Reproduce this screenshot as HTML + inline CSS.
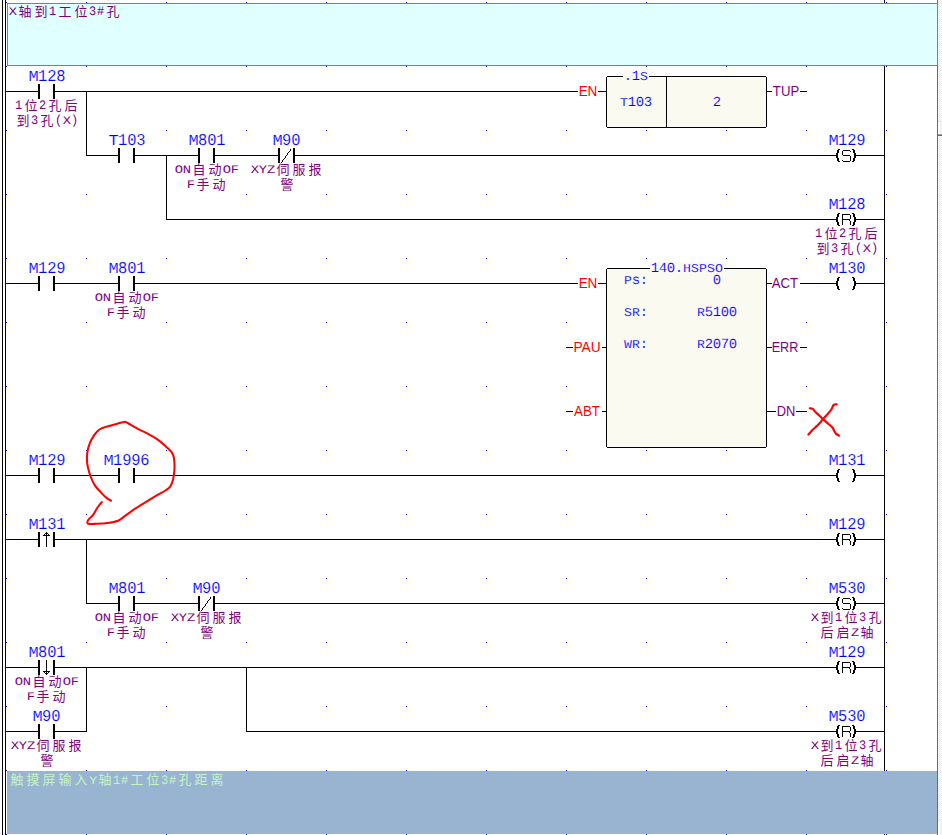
<!DOCTYPE html>
<html lang="zh"><head><meta charset="utf-8"><title>PLC Ladder</title>
<style>
html,body{margin:0;padding:0;background:#fff;}
body{width:942px;height:835px;position:relative;overflow:hidden;font-family:"Liberation Sans",sans-serif;}
svg{position:absolute;left:0;top:0;}
.g{shape-rendering:crispEdges;}
span{position:absolute;white-space:pre;line-height:16px;height:16px;}
.m{font-family:"Liberation Mono",monospace;transform-origin:0 50%;text-rendering:geometricPrecision;}
.m b{font-weight:normal;line-height:0;display:inline-block;transform-origin:0 50%;}
.m i{display:inline-block;height:1px;font-size:0;line-height:0;color:transparent;font-style:normal;overflow:hidden;vertical-align:baseline;}
.s{font-family:"Liberation Sans",sans-serif;}
.c{font-family:"Liberation Sans","Noto Sans CJK SC",sans-serif;font-size:13px;text-anchor:middle;}
</style></head><body>
<svg width="942" height="835" viewBox="0 0 942 835">
<defs><pattern id="dz" width="2" height="2" patternUnits="userSpaceOnUse"><rect width="2" height="2" fill="#fff"/><rect width="1" height="1" fill="#ececec"/><rect x="1" y="1" width="1" height="1" fill="#ececec"/></pattern></defs>
<g class="g">
<rect x="6" y="2" width="1" height="1" fill="#00f"/>
<rect x="6" y="66" width="1" height="1" fill="#00f"/>
<rect x="6" y="130" width="1" height="1" fill="#00f"/>
<rect x="6" y="194" width="1" height="1" fill="#00f"/>
<rect x="6" y="258" width="1" height="1" fill="#00f"/>
<rect x="6" y="322" width="1" height="1" fill="#00f"/>
<rect x="6" y="386" width="1" height="1" fill="#00f"/>
<rect x="6" y="450" width="1" height="1" fill="#00f"/>
<rect x="6" y="514" width="1" height="1" fill="#00f"/>
<rect x="6" y="578" width="1" height="1" fill="#00f"/>
<rect x="6" y="642" width="1" height="1" fill="#00f"/>
<rect x="6" y="706" width="1" height="1" fill="#00f"/>
<rect x="6" y="770" width="1" height="1" fill="#00f"/>
<rect x="6" y="834" width="1" height="1" fill="#00f"/>
<rect x="86" y="2" width="1" height="1" fill="#00f"/>
<rect x="86" y="66" width="1" height="1" fill="#00f"/>
<rect x="86" y="130" width="1" height="1" fill="#00f"/>
<rect x="86" y="194" width="1" height="1" fill="#00f"/>
<rect x="86" y="258" width="1" height="1" fill="#00f"/>
<rect x="86" y="322" width="1" height="1" fill="#00f"/>
<rect x="86" y="386" width="1" height="1" fill="#00f"/>
<rect x="86" y="450" width="1" height="1" fill="#00f"/>
<rect x="86" y="514" width="1" height="1" fill="#00f"/>
<rect x="86" y="578" width="1" height="1" fill="#00f"/>
<rect x="86" y="642" width="1" height="1" fill="#00f"/>
<rect x="86" y="706" width="1" height="1" fill="#00f"/>
<rect x="86" y="770" width="1" height="1" fill="#00f"/>
<rect x="86" y="834" width="1" height="1" fill="#00f"/>
<rect x="166" y="2" width="1" height="1" fill="#00f"/>
<rect x="166" y="66" width="1" height="1" fill="#00f"/>
<rect x="166" y="130" width="1" height="1" fill="#00f"/>
<rect x="166" y="194" width="1" height="1" fill="#00f"/>
<rect x="166" y="258" width="1" height="1" fill="#00f"/>
<rect x="166" y="322" width="1" height="1" fill="#00f"/>
<rect x="166" y="386" width="1" height="1" fill="#00f"/>
<rect x="166" y="450" width="1" height="1" fill="#00f"/>
<rect x="166" y="514" width="1" height="1" fill="#00f"/>
<rect x="166" y="578" width="1" height="1" fill="#00f"/>
<rect x="166" y="642" width="1" height="1" fill="#00f"/>
<rect x="166" y="706" width="1" height="1" fill="#00f"/>
<rect x="166" y="770" width="1" height="1" fill="#00f"/>
<rect x="166" y="834" width="1" height="1" fill="#00f"/>
<rect x="246" y="2" width="1" height="1" fill="#00f"/>
<rect x="246" y="66" width="1" height="1" fill="#00f"/>
<rect x="246" y="130" width="1" height="1" fill="#00f"/>
<rect x="246" y="194" width="1" height="1" fill="#00f"/>
<rect x="246" y="258" width="1" height="1" fill="#00f"/>
<rect x="246" y="322" width="1" height="1" fill="#00f"/>
<rect x="246" y="386" width="1" height="1" fill="#00f"/>
<rect x="246" y="450" width="1" height="1" fill="#00f"/>
<rect x="246" y="514" width="1" height="1" fill="#00f"/>
<rect x="246" y="578" width="1" height="1" fill="#00f"/>
<rect x="246" y="642" width="1" height="1" fill="#00f"/>
<rect x="246" y="706" width="1" height="1" fill="#00f"/>
<rect x="246" y="770" width="1" height="1" fill="#00f"/>
<rect x="246" y="834" width="1" height="1" fill="#00f"/>
<rect x="326" y="2" width="1" height="1" fill="#00f"/>
<rect x="326" y="66" width="1" height="1" fill="#00f"/>
<rect x="326" y="130" width="1" height="1" fill="#00f"/>
<rect x="326" y="194" width="1" height="1" fill="#00f"/>
<rect x="326" y="258" width="1" height="1" fill="#00f"/>
<rect x="326" y="322" width="1" height="1" fill="#00f"/>
<rect x="326" y="386" width="1" height="1" fill="#00f"/>
<rect x="326" y="450" width="1" height="1" fill="#00f"/>
<rect x="326" y="514" width="1" height="1" fill="#00f"/>
<rect x="326" y="578" width="1" height="1" fill="#00f"/>
<rect x="326" y="642" width="1" height="1" fill="#00f"/>
<rect x="326" y="706" width="1" height="1" fill="#00f"/>
<rect x="326" y="770" width="1" height="1" fill="#00f"/>
<rect x="326" y="834" width="1" height="1" fill="#00f"/>
<rect x="406" y="2" width="1" height="1" fill="#00f"/>
<rect x="406" y="66" width="1" height="1" fill="#00f"/>
<rect x="406" y="130" width="1" height="1" fill="#00f"/>
<rect x="406" y="194" width="1" height="1" fill="#00f"/>
<rect x="406" y="258" width="1" height="1" fill="#00f"/>
<rect x="406" y="322" width="1" height="1" fill="#00f"/>
<rect x="406" y="386" width="1" height="1" fill="#00f"/>
<rect x="406" y="450" width="1" height="1" fill="#00f"/>
<rect x="406" y="514" width="1" height="1" fill="#00f"/>
<rect x="406" y="578" width="1" height="1" fill="#00f"/>
<rect x="406" y="642" width="1" height="1" fill="#00f"/>
<rect x="406" y="706" width="1" height="1" fill="#00f"/>
<rect x="406" y="770" width="1" height="1" fill="#00f"/>
<rect x="406" y="834" width="1" height="1" fill="#00f"/>
<rect x="486" y="2" width="1" height="1" fill="#00f"/>
<rect x="486" y="66" width="1" height="1" fill="#00f"/>
<rect x="486" y="130" width="1" height="1" fill="#00f"/>
<rect x="486" y="194" width="1" height="1" fill="#00f"/>
<rect x="486" y="258" width="1" height="1" fill="#00f"/>
<rect x="486" y="322" width="1" height="1" fill="#00f"/>
<rect x="486" y="386" width="1" height="1" fill="#00f"/>
<rect x="486" y="450" width="1" height="1" fill="#00f"/>
<rect x="486" y="514" width="1" height="1" fill="#00f"/>
<rect x="486" y="578" width="1" height="1" fill="#00f"/>
<rect x="486" y="642" width="1" height="1" fill="#00f"/>
<rect x="486" y="706" width="1" height="1" fill="#00f"/>
<rect x="486" y="770" width="1" height="1" fill="#00f"/>
<rect x="486" y="834" width="1" height="1" fill="#00f"/>
<rect x="566" y="2" width="1" height="1" fill="#00f"/>
<rect x="566" y="66" width="1" height="1" fill="#00f"/>
<rect x="566" y="130" width="1" height="1" fill="#00f"/>
<rect x="566" y="194" width="1" height="1" fill="#00f"/>
<rect x="566" y="258" width="1" height="1" fill="#00f"/>
<rect x="566" y="322" width="1" height="1" fill="#00f"/>
<rect x="566" y="386" width="1" height="1" fill="#00f"/>
<rect x="566" y="450" width="1" height="1" fill="#00f"/>
<rect x="566" y="514" width="1" height="1" fill="#00f"/>
<rect x="566" y="578" width="1" height="1" fill="#00f"/>
<rect x="566" y="642" width="1" height="1" fill="#00f"/>
<rect x="566" y="706" width="1" height="1" fill="#00f"/>
<rect x="566" y="770" width="1" height="1" fill="#00f"/>
<rect x="566" y="834" width="1" height="1" fill="#00f"/>
<rect x="646" y="2" width="1" height="1" fill="#00f"/>
<rect x="646" y="66" width="1" height="1" fill="#00f"/>
<rect x="646" y="130" width="1" height="1" fill="#00f"/>
<rect x="646" y="194" width="1" height="1" fill="#00f"/>
<rect x="646" y="258" width="1" height="1" fill="#00f"/>
<rect x="646" y="322" width="1" height="1" fill="#00f"/>
<rect x="646" y="386" width="1" height="1" fill="#00f"/>
<rect x="646" y="450" width="1" height="1" fill="#00f"/>
<rect x="646" y="514" width="1" height="1" fill="#00f"/>
<rect x="646" y="578" width="1" height="1" fill="#00f"/>
<rect x="646" y="642" width="1" height="1" fill="#00f"/>
<rect x="646" y="706" width="1" height="1" fill="#00f"/>
<rect x="646" y="770" width="1" height="1" fill="#00f"/>
<rect x="646" y="834" width="1" height="1" fill="#00f"/>
<rect x="726" y="2" width="1" height="1" fill="#00f"/>
<rect x="726" y="66" width="1" height="1" fill="#00f"/>
<rect x="726" y="130" width="1" height="1" fill="#00f"/>
<rect x="726" y="194" width="1" height="1" fill="#00f"/>
<rect x="726" y="258" width="1" height="1" fill="#00f"/>
<rect x="726" y="322" width="1" height="1" fill="#00f"/>
<rect x="726" y="386" width="1" height="1" fill="#00f"/>
<rect x="726" y="450" width="1" height="1" fill="#00f"/>
<rect x="726" y="514" width="1" height="1" fill="#00f"/>
<rect x="726" y="578" width="1" height="1" fill="#00f"/>
<rect x="726" y="642" width="1" height="1" fill="#00f"/>
<rect x="726" y="706" width="1" height="1" fill="#00f"/>
<rect x="726" y="770" width="1" height="1" fill="#00f"/>
<rect x="726" y="834" width="1" height="1" fill="#00f"/>
<rect x="806" y="2" width="1" height="1" fill="#00f"/>
<rect x="806" y="66" width="1" height="1" fill="#00f"/>
<rect x="806" y="130" width="1" height="1" fill="#00f"/>
<rect x="806" y="194" width="1" height="1" fill="#00f"/>
<rect x="806" y="258" width="1" height="1" fill="#00f"/>
<rect x="806" y="322" width="1" height="1" fill="#00f"/>
<rect x="806" y="386" width="1" height="1" fill="#00f"/>
<rect x="806" y="450" width="1" height="1" fill="#00f"/>
<rect x="806" y="514" width="1" height="1" fill="#00f"/>
<rect x="806" y="578" width="1" height="1" fill="#00f"/>
<rect x="806" y="642" width="1" height="1" fill="#00f"/>
<rect x="806" y="706" width="1" height="1" fill="#00f"/>
<rect x="806" y="770" width="1" height="1" fill="#00f"/>
<rect x="806" y="834" width="1" height="1" fill="#00f"/>
<rect x="886" y="2" width="1" height="1" fill="#00f"/>
<rect x="886" y="66" width="1" height="1" fill="#00f"/>
<rect x="886" y="130" width="1" height="1" fill="#00f"/>
<rect x="886" y="194" width="1" height="1" fill="#00f"/>
<rect x="886" y="258" width="1" height="1" fill="#00f"/>
<rect x="886" y="322" width="1" height="1" fill="#00f"/>
<rect x="886" y="386" width="1" height="1" fill="#00f"/>
<rect x="886" y="450" width="1" height="1" fill="#00f"/>
<rect x="886" y="514" width="1" height="1" fill="#00f"/>
<rect x="886" y="578" width="1" height="1" fill="#00f"/>
<rect x="886" y="642" width="1" height="1" fill="#00f"/>
<rect x="886" y="706" width="1" height="1" fill="#00f"/>
<rect x="886" y="770" width="1" height="1" fill="#00f"/>
<rect x="886" y="834" width="1" height="1" fill="#00f"/>
<rect x="2" y="0" width="1" height="835" fill="#000"/>
<rect x="5" y="0" width="1" height="835" fill="#000"/>
<rect x="884" y="0" width="1" height="835" fill="#000"/>
<rect x="938" y="0" width="4" height="835" fill="url(#dz)"/>
<rect x="937" y="0" width="1" height="835" fill="#6a6a6a"/>
<rect x="938" y="121" width="4" height="1" fill="#e3e3e3"/><rect x="938" y="122" width="4" height="12" fill="#fff"/><rect x="940" y="123" width="2" height="11" fill="#f0f0f0"/><rect x="938" y="134" width="4" height="1" fill="#a0a0a0"/><rect x="938" y="135" width="4" height="1" fill="#696969"/>
<rect x="938" y="820" width="4" height="1" fill="#e3e3e3"/><rect x="938" y="821" width="4" height="14" fill="#fff"/><rect x="940" y="822" width="2" height="13" fill="#f0f0f0"/>
<rect x="7.5" y="3.5" width="930" height="62" fill="#e0ffff" stroke="#808080" stroke-width="1"/>
<rect x="7" y="771" width="930" height="63" fill="#99b4d1"/>
<rect x="38" y="84" width="2" height="15" fill="#000"/>
<rect x="53" y="84" width="2" height="15" fill="#000"/>
<rect x="6" y="91" width="32" height="1" fill="#000"/>
<rect x="55" y="91" width="523" height="1" fill="#000"/>
<rect x="598" y="91" width="8" height="1" fill="#000"/>
<path d="M607.5 76.5H765.5L766.5 77.5V126.5L765.5 127.5H607.5L606.5 126.5V77.5Z" fill="#fafaf0" stroke="#000" stroke-width="1"/>
<rect x="666" y="76" width="1" height="52" fill="#000"/>
<rect x="767" y="91" width="5" height="1" fill="#000"/>
<rect x="800" y="91" width="7" height="1" fill="#000"/>
<rect x="86" y="91" width="1" height="65" fill="#000"/>
<rect x="118" y="148" width="2" height="15" fill="#000"/>
<rect x="133" y="148" width="2" height="15" fill="#000"/>
<rect x="198" y="148" width="2" height="15" fill="#000"/>
<rect x="213" y="148" width="2" height="15" fill="#000"/>
<rect x="278" y="148" width="2" height="15" fill="#000"/>
<rect x="293" y="148" width="2" height="15" fill="#000"/>
<rect x="281" y="162" width="1" height="1"/>
<rect x="282" y="160" width="1" height="2"/>
<rect x="283" y="159" width="1" height="1"/>
<rect x="284" y="158" width="1" height="1"/>
<rect x="285" y="156" width="1" height="2"/>
<rect x="286" y="155" width="1" height="1"/>
<rect x="287" y="153" width="1" height="2"/>
<rect x="288" y="152" width="1" height="1"/>
<rect x="289" y="151" width="1" height="1"/>
<rect x="290" y="149" width="1" height="2"/>
<rect x="86" y="155" width="32" height="1" fill="#000"/>
<rect x="135" y="155" width="63" height="1" fill="#000"/>
<rect x="215" y="155" width="63" height="1" fill="#000"/>
<rect x="295" y="155" width="541" height="1" fill="#000"/>
<rect x="838" y="149" width="2" height="1"/>
<rect x="852" y="149" width="2" height="1"/>
<rect x="837" y="150" width="2" height="1"/>
<rect x="853" y="150" width="2" height="1"/>
<rect x="837" y="151" width="2" height="1"/>
<rect x="853" y="151" width="2" height="1"/>
<rect x="837" y="152" width="2" height="1"/>
<rect x="853" y="152" width="2" height="1"/>
<rect x="836" y="153" width="2" height="1"/>
<rect x="854" y="153" width="2" height="1"/>
<rect x="836" y="154" width="2" height="1"/>
<rect x="854" y="154" width="2" height="1"/>
<rect x="836" y="155" width="2" height="1"/>
<rect x="854" y="155" width="2" height="1"/>
<rect x="836" y="156" width="2" height="1"/>
<rect x="854" y="156" width="2" height="1"/>
<rect x="836" y="157" width="2" height="1"/>
<rect x="854" y="157" width="2" height="1"/>
<rect x="837" y="158" width="2" height="1"/>
<rect x="853" y="158" width="2" height="1"/>
<rect x="837" y="159" width="2" height="1"/>
<rect x="853" y="159" width="2" height="1"/>
<rect x="837" y="160" width="2" height="1"/>
<rect x="853" y="160" width="2" height="1"/>
<rect x="838" y="161" width="2" height="1"/>
<rect x="852" y="161" width="2" height="1"/>
<rect x="843" y="150" width="7" height="1" fill="#000"/>
<rect x="850" y="151" width="1" height="1"/>
<rect x="842" y="151" width="1" height="4" fill="#000"/>
<rect x="843" y="155" width="7" height="1" fill="#000"/>
<rect x="850" y="156" width="1" height="5" fill="#000"/>
<rect x="843" y="161" width="7" height="1" fill="#000"/>
<rect x="842" y="160" width="1" height="1"/>
<rect x="856" y="155" width="28" height="1" fill="#000"/>
<rect x="166" y="155" width="1" height="65" fill="#000"/>
<rect x="166" y="219" width="670" height="1" fill="#000"/>
<rect x="838" y="213" width="2" height="1"/>
<rect x="852" y="213" width="2" height="1"/>
<rect x="837" y="214" width="2" height="1"/>
<rect x="853" y="214" width="2" height="1"/>
<rect x="837" y="215" width="2" height="1"/>
<rect x="853" y="215" width="2" height="1"/>
<rect x="837" y="216" width="2" height="1"/>
<rect x="853" y="216" width="2" height="1"/>
<rect x="836" y="217" width="2" height="1"/>
<rect x="854" y="217" width="2" height="1"/>
<rect x="836" y="218" width="2" height="1"/>
<rect x="854" y="218" width="2" height="1"/>
<rect x="836" y="219" width="2" height="1"/>
<rect x="854" y="219" width="2" height="1"/>
<rect x="836" y="220" width="2" height="1"/>
<rect x="854" y="220" width="2" height="1"/>
<rect x="836" y="221" width="2" height="1"/>
<rect x="854" y="221" width="2" height="1"/>
<rect x="837" y="222" width="2" height="1"/>
<rect x="853" y="222" width="2" height="1"/>
<rect x="837" y="223" width="2" height="1"/>
<rect x="853" y="223" width="2" height="1"/>
<rect x="837" y="224" width="2" height="1"/>
<rect x="853" y="224" width="2" height="1"/>
<rect x="838" y="225" width="2" height="1"/>
<rect x="852" y="225" width="2" height="1"/>
<rect x="842" y="214" width="1" height="11" fill="#000"/>
<rect x="842" y="214" width="8" height="1" fill="#000"/>
<rect x="850" y="215" width="1" height="4" fill="#000"/>
<rect x="843" y="219" width="7" height="1" fill="#000"/>
<rect x="849" y="220" width="1" height="1"/>
<rect x="850" y="221" width="1" height="4" fill="#000"/>
<rect x="856" y="219" width="28" height="1" fill="#000"/>
<rect x="38" y="276" width="2" height="15" fill="#000"/>
<rect x="53" y="276" width="2" height="15" fill="#000"/>
<rect x="118" y="276" width="2" height="15" fill="#000"/>
<rect x="133" y="276" width="2" height="15" fill="#000"/>
<rect x="6" y="283" width="32" height="1" fill="#000"/>
<rect x="55" y="283" width="63" height="1" fill="#000"/>
<rect x="135" y="283" width="443" height="1" fill="#000"/>
<rect x="598" y="283" width="8" height="1" fill="#000"/>
<path d="M607.5 268.5H765.5L766.5 269.5V446.5L765.5 447.5H607.5L606.5 446.5V269.5Z" fill="#fafaf0" stroke="#000" stroke-width="1"/>
<rect x="767" y="283" width="5" height="1" fill="#000"/>
<rect x="800" y="283" width="36" height="1" fill="#000"/>
<rect x="838" y="277" width="2" height="1"/>
<rect x="852" y="277" width="2" height="1"/>
<rect x="837" y="278" width="2" height="1"/>
<rect x="853" y="278" width="2" height="1"/>
<rect x="837" y="279" width="2" height="1"/>
<rect x="853" y="279" width="2" height="1"/>
<rect x="837" y="280" width="2" height="1"/>
<rect x="853" y="280" width="2" height="1"/>
<rect x="836" y="281" width="2" height="1"/>
<rect x="854" y="281" width="2" height="1"/>
<rect x="836" y="282" width="2" height="1"/>
<rect x="854" y="282" width="2" height="1"/>
<rect x="836" y="283" width="2" height="1"/>
<rect x="854" y="283" width="2" height="1"/>
<rect x="836" y="284" width="2" height="1"/>
<rect x="854" y="284" width="2" height="1"/>
<rect x="836" y="285" width="2" height="1"/>
<rect x="854" y="285" width="2" height="1"/>
<rect x="837" y="286" width="2" height="1"/>
<rect x="853" y="286" width="2" height="1"/>
<rect x="837" y="287" width="2" height="1"/>
<rect x="853" y="287" width="2" height="1"/>
<rect x="837" y="288" width="2" height="1"/>
<rect x="853" y="288" width="2" height="1"/>
<rect x="838" y="289" width="2" height="1"/>
<rect x="852" y="289" width="2" height="1"/>
<rect x="856" y="283" width="28" height="1" fill="#000"/>
<rect x="566" y="347" width="7" height="1" fill="#000"/>
<rect x="602" y="347" width="4" height="1" fill="#000"/>
<rect x="566" y="411" width="7" height="1" fill="#000"/>
<rect x="602" y="411" width="4" height="1" fill="#000"/>
<rect x="767" y="347" width="5" height="1" fill="#000"/>
<rect x="800" y="347" width="7" height="1" fill="#000"/>
<rect x="767" y="411" width="9" height="1" fill="#000"/>
<rect x="796" y="411" width="11" height="1" fill="#000"/>
<rect x="38" y="468" width="2" height="15" fill="#000"/>
<rect x="53" y="468" width="2" height="15" fill="#000"/>
<rect x="118" y="468" width="2" height="15" fill="#000"/>
<rect x="133" y="468" width="2" height="15" fill="#000"/>
<rect x="6" y="475" width="32" height="1" fill="#000"/>
<rect x="55" y="475" width="63" height="1" fill="#000"/>
<rect x="135" y="475" width="701" height="1" fill="#000"/>
<rect x="838" y="469" width="2" height="1"/>
<rect x="852" y="469" width="2" height="1"/>
<rect x="837" y="470" width="2" height="1"/>
<rect x="853" y="470" width="2" height="1"/>
<rect x="837" y="471" width="2" height="1"/>
<rect x="853" y="471" width="2" height="1"/>
<rect x="837" y="472" width="2" height="1"/>
<rect x="853" y="472" width="2" height="1"/>
<rect x="836" y="473" width="2" height="1"/>
<rect x="854" y="473" width="2" height="1"/>
<rect x="836" y="474" width="2" height="1"/>
<rect x="854" y="474" width="2" height="1"/>
<rect x="836" y="475" width="2" height="1"/>
<rect x="854" y="475" width="2" height="1"/>
<rect x="836" y="476" width="2" height="1"/>
<rect x="854" y="476" width="2" height="1"/>
<rect x="836" y="477" width="2" height="1"/>
<rect x="854" y="477" width="2" height="1"/>
<rect x="837" y="478" width="2" height="1"/>
<rect x="853" y="478" width="2" height="1"/>
<rect x="837" y="479" width="2" height="1"/>
<rect x="853" y="479" width="2" height="1"/>
<rect x="837" y="480" width="2" height="1"/>
<rect x="853" y="480" width="2" height="1"/>
<rect x="838" y="481" width="2" height="1"/>
<rect x="852" y="481" width="2" height="1"/>
<rect x="856" y="475" width="28" height="1" fill="#000"/>
<rect x="38" y="532" width="2" height="15" fill="#000"/>
<rect x="53" y="532" width="2" height="15" fill="#000"/>
<rect x="46" y="532" width="1" height="15" fill="#000"/>
<rect x="45" y="533" width="3" height="1" fill="#000"/>
<rect x="44" y="534" width="1" height="1"/>
<rect x="48" y="534" width="1" height="1"/>
<rect x="43" y="535" width="7" height="1" fill="#000"/>
<rect x="6" y="539" width="32" height="1" fill="#000"/>
<rect x="55" y="539" width="781" height="1" fill="#000"/>
<rect x="838" y="533" width="2" height="1"/>
<rect x="852" y="533" width="2" height="1"/>
<rect x="837" y="534" width="2" height="1"/>
<rect x="853" y="534" width="2" height="1"/>
<rect x="837" y="535" width="2" height="1"/>
<rect x="853" y="535" width="2" height="1"/>
<rect x="837" y="536" width="2" height="1"/>
<rect x="853" y="536" width="2" height="1"/>
<rect x="836" y="537" width="2" height="1"/>
<rect x="854" y="537" width="2" height="1"/>
<rect x="836" y="538" width="2" height="1"/>
<rect x="854" y="538" width="2" height="1"/>
<rect x="836" y="539" width="2" height="1"/>
<rect x="854" y="539" width="2" height="1"/>
<rect x="836" y="540" width="2" height="1"/>
<rect x="854" y="540" width="2" height="1"/>
<rect x="836" y="541" width="2" height="1"/>
<rect x="854" y="541" width="2" height="1"/>
<rect x="837" y="542" width="2" height="1"/>
<rect x="853" y="542" width="2" height="1"/>
<rect x="837" y="543" width="2" height="1"/>
<rect x="853" y="543" width="2" height="1"/>
<rect x="837" y="544" width="2" height="1"/>
<rect x="853" y="544" width="2" height="1"/>
<rect x="838" y="545" width="2" height="1"/>
<rect x="852" y="545" width="2" height="1"/>
<rect x="842" y="534" width="1" height="11" fill="#000"/>
<rect x="842" y="534" width="8" height="1" fill="#000"/>
<rect x="850" y="535" width="1" height="4" fill="#000"/>
<rect x="843" y="539" width="7" height="1" fill="#000"/>
<rect x="849" y="540" width="1" height="1"/>
<rect x="850" y="541" width="1" height="4" fill="#000"/>
<rect x="856" y="539" width="28" height="1" fill="#000"/>
<rect x="86" y="539" width="1" height="65" fill="#000"/>
<rect x="118" y="596" width="2" height="15" fill="#000"/>
<rect x="133" y="596" width="2" height="15" fill="#000"/>
<rect x="198" y="596" width="2" height="15" fill="#000"/>
<rect x="213" y="596" width="2" height="15" fill="#000"/>
<rect x="201" y="610" width="1" height="1"/>
<rect x="202" y="608" width="1" height="2"/>
<rect x="203" y="607" width="1" height="1"/>
<rect x="204" y="606" width="1" height="1"/>
<rect x="205" y="604" width="1" height="2"/>
<rect x="206" y="603" width="1" height="1"/>
<rect x="207" y="601" width="1" height="2"/>
<rect x="208" y="600" width="1" height="1"/>
<rect x="209" y="599" width="1" height="1"/>
<rect x="210" y="597" width="1" height="2"/>
<rect x="86" y="603" width="32" height="1" fill="#000"/>
<rect x="135" y="603" width="63" height="1" fill="#000"/>
<rect x="215" y="603" width="621" height="1" fill="#000"/>
<rect x="838" y="597" width="2" height="1"/>
<rect x="852" y="597" width="2" height="1"/>
<rect x="837" y="598" width="2" height="1"/>
<rect x="853" y="598" width="2" height="1"/>
<rect x="837" y="599" width="2" height="1"/>
<rect x="853" y="599" width="2" height="1"/>
<rect x="837" y="600" width="2" height="1"/>
<rect x="853" y="600" width="2" height="1"/>
<rect x="836" y="601" width="2" height="1"/>
<rect x="854" y="601" width="2" height="1"/>
<rect x="836" y="602" width="2" height="1"/>
<rect x="854" y="602" width="2" height="1"/>
<rect x="836" y="603" width="2" height="1"/>
<rect x="854" y="603" width="2" height="1"/>
<rect x="836" y="604" width="2" height="1"/>
<rect x="854" y="604" width="2" height="1"/>
<rect x="836" y="605" width="2" height="1"/>
<rect x="854" y="605" width="2" height="1"/>
<rect x="837" y="606" width="2" height="1"/>
<rect x="853" y="606" width="2" height="1"/>
<rect x="837" y="607" width="2" height="1"/>
<rect x="853" y="607" width="2" height="1"/>
<rect x="837" y="608" width="2" height="1"/>
<rect x="853" y="608" width="2" height="1"/>
<rect x="838" y="609" width="2" height="1"/>
<rect x="852" y="609" width="2" height="1"/>
<rect x="843" y="598" width="7" height="1" fill="#000"/>
<rect x="850" y="599" width="1" height="1"/>
<rect x="842" y="599" width="1" height="4" fill="#000"/>
<rect x="843" y="603" width="7" height="1" fill="#000"/>
<rect x="850" y="604" width="1" height="5" fill="#000"/>
<rect x="843" y="609" width="7" height="1" fill="#000"/>
<rect x="842" y="608" width="1" height="1"/>
<rect x="856" y="603" width="28" height="1" fill="#000"/>
<rect x="38" y="660" width="2" height="15" fill="#000"/>
<rect x="53" y="660" width="2" height="15" fill="#000"/>
<rect x="46" y="660" width="1" height="15" fill="#000"/>
<rect x="45" y="673" width="3" height="1" fill="#000"/>
<rect x="44" y="672" width="1" height="1"/>
<rect x="48" y="672" width="1" height="1"/>
<rect x="43" y="671" width="7" height="1" fill="#000"/>
<rect x="6" y="667" width="32" height="1" fill="#000"/>
<rect x="55" y="667" width="781" height="1" fill="#000"/>
<rect x="838" y="661" width="2" height="1"/>
<rect x="852" y="661" width="2" height="1"/>
<rect x="837" y="662" width="2" height="1"/>
<rect x="853" y="662" width="2" height="1"/>
<rect x="837" y="663" width="2" height="1"/>
<rect x="853" y="663" width="2" height="1"/>
<rect x="837" y="664" width="2" height="1"/>
<rect x="853" y="664" width="2" height="1"/>
<rect x="836" y="665" width="2" height="1"/>
<rect x="854" y="665" width="2" height="1"/>
<rect x="836" y="666" width="2" height="1"/>
<rect x="854" y="666" width="2" height="1"/>
<rect x="836" y="667" width="2" height="1"/>
<rect x="854" y="667" width="2" height="1"/>
<rect x="836" y="668" width="2" height="1"/>
<rect x="854" y="668" width="2" height="1"/>
<rect x="836" y="669" width="2" height="1"/>
<rect x="854" y="669" width="2" height="1"/>
<rect x="837" y="670" width="2" height="1"/>
<rect x="853" y="670" width="2" height="1"/>
<rect x="837" y="671" width="2" height="1"/>
<rect x="853" y="671" width="2" height="1"/>
<rect x="837" y="672" width="2" height="1"/>
<rect x="853" y="672" width="2" height="1"/>
<rect x="838" y="673" width="2" height="1"/>
<rect x="852" y="673" width="2" height="1"/>
<rect x="842" y="662" width="1" height="11" fill="#000"/>
<rect x="842" y="662" width="8" height="1" fill="#000"/>
<rect x="850" y="663" width="1" height="4" fill="#000"/>
<rect x="843" y="667" width="7" height="1" fill="#000"/>
<rect x="849" y="668" width="1" height="1"/>
<rect x="850" y="669" width="1" height="4" fill="#000"/>
<rect x="856" y="667" width="28" height="1" fill="#000"/>
<rect x="86" y="667" width="1" height="65" fill="#000"/>
<rect x="246" y="667" width="1" height="65" fill="#000"/>
<rect x="38" y="724" width="2" height="15" fill="#000"/>
<rect x="53" y="724" width="2" height="15" fill="#000"/>
<rect x="6" y="731" width="32" height="1" fill="#000"/>
<rect x="55" y="731" width="32" height="1" fill="#000"/>
<rect x="246" y="731" width="590" height="1" fill="#000"/>
<rect x="838" y="725" width="2" height="1"/>
<rect x="852" y="725" width="2" height="1"/>
<rect x="837" y="726" width="2" height="1"/>
<rect x="853" y="726" width="2" height="1"/>
<rect x="837" y="727" width="2" height="1"/>
<rect x="853" y="727" width="2" height="1"/>
<rect x="837" y="728" width="2" height="1"/>
<rect x="853" y="728" width="2" height="1"/>
<rect x="836" y="729" width="2" height="1"/>
<rect x="854" y="729" width="2" height="1"/>
<rect x="836" y="730" width="2" height="1"/>
<rect x="854" y="730" width="2" height="1"/>
<rect x="836" y="731" width="2" height="1"/>
<rect x="854" y="731" width="2" height="1"/>
<rect x="836" y="732" width="2" height="1"/>
<rect x="854" y="732" width="2" height="1"/>
<rect x="836" y="733" width="2" height="1"/>
<rect x="854" y="733" width="2" height="1"/>
<rect x="837" y="734" width="2" height="1"/>
<rect x="853" y="734" width="2" height="1"/>
<rect x="837" y="735" width="2" height="1"/>
<rect x="853" y="735" width="2" height="1"/>
<rect x="837" y="736" width="2" height="1"/>
<rect x="853" y="736" width="2" height="1"/>
<rect x="838" y="737" width="2" height="1"/>
<rect x="852" y="737" width="2" height="1"/>
<rect x="842" y="726" width="1" height="11" fill="#000"/>
<rect x="842" y="726" width="8" height="1" fill="#000"/>
<rect x="850" y="727" width="1" height="4" fill="#000"/>
<rect x="843" y="731" width="7" height="1" fill="#000"/>
<rect x="849" y="732" width="1" height="1"/>
<rect x="850" y="733" width="1" height="4" fill="#000"/>
<rect x="856" y="731" width="28" height="1" fill="#000"/>
<rect x="623" y="70" width="26" height="11" fill="#fafaf0"/>
<rect x="650" y="262" width="74" height="11" fill="#fafaf0"/>
</g>
<g>
<path d="M111.0 500.7C110.2 500.2 107.9 499.0 106.2 497.6C104.5 496.2 102.5 494.1 100.7 492.1C98.9 490.2 96.9 488.4 95.2 485.9C93.5 483.4 92.0 480.1 90.8 477.0C89.6 473.9 88.6 470.5 87.9 467.3C87.2 464.1 86.9 460.9 86.9 457.7C87.0 454.5 87.5 451.1 88.2 448.1C89.0 445.1 90.0 442.5 91.4 439.8C92.8 437.1 94.7 434.1 96.5 432.2C98.3 430.2 99.2 429.3 102.0 428.1C104.8 426.9 109.4 425.9 113.1 424.9C116.8 423.9 121.7 422.2 124.1 421.9C126.5 421.6 125.2 421.9 127.5 423.0C129.8 424.1 134.3 426.9 137.9 428.8C141.5 430.7 145.7 432.6 148.9 434.3C152.1 436.0 154.3 437.2 157.1 439.1C159.8 441.1 163.0 443.8 165.4 446.0C167.8 448.2 170.2 450.2 171.6 452.2C173.0 454.1 173.4 454.7 173.9 457.7C174.4 460.7 174.6 466.4 174.4 470.1C174.2 473.8 173.7 476.9 173.0 479.7C172.3 482.4 171.5 484.8 170.2 486.6C168.9 488.4 167.6 489.1 165.4 490.5C163.2 491.9 160.3 493.3 157.1 495.2C153.9 497.1 149.8 499.6 146.1 501.8C142.4 504.1 138.5 506.4 135.1 508.7C131.7 511.0 128.4 513.6 125.5 515.6C122.6 517.6 120.9 519.5 117.9 520.8C114.9 522.0 111.1 522.6 107.5 523.1C103.9 523.6 99.7 523.7 96.5 523.8C93.3 523.9 89.8 524.2 88.3 523.8C86.8 523.3 87.4 522.0 87.6 521.1C87.8 520.2 88.7 519.3 89.6 518.3C90.5 517.3 91.8 516.6 93.1 514.9C94.4 513.2 95.8 510.1 97.2 508.0C98.7 505.9 101.0 503.1 101.8 502.1" fill="none" stroke="#f00" stroke-width="2.05" stroke-linecap="round" stroke-linejoin="round"/>
<path d="M809.8 408.3C810.2 408.4 811.6 408.3 812.5 408.8C813.4 409.3 813.9 410.4 815.0 411.5C816.1 412.6 817.6 413.9 819.0 415.2C820.4 416.5 821.6 417.8 823.1 419.2C824.6 420.6 826.2 421.9 827.8 423.3C829.4 424.7 831.5 426.4 832.6 427.7C833.7 429.0 833.6 430.0 834.2 431.0C834.8 432.0 835.2 432.8 836.0 433.6C836.8 434.4 838.5 435.3 839.0 435.6M836.7 404.3C836.2 404.4 834.7 403.9 833.7 404.9C832.8 405.8 832.1 408.4 831.0 410.0C829.9 411.6 828.6 412.9 827.3 414.4C826.0 415.9 824.2 417.6 823.0 419.0C821.8 420.4 820.8 421.8 819.8 423.0C818.8 424.2 818.0 424.9 816.7 426.1C815.4 427.4 813.4 429.1 812.0 430.5C810.6 431.9 809.0 433.9 808.4 434.6" fill="none" stroke="#f00" stroke-width="2.2" stroke-linecap="round" stroke-linejoin="round"/>
<g fill="#800080">
<text class="c" x="25" y="16.2">轴</text>
<text class="c" x="41" y="16.2">到</text>
<text class="c" x="65" y="16.2">工</text>
<text class="c" x="81" y="16.2">位</text>
<text class="c" x="113" y="16.2">孔</text>
</g>
<g fill="#c4f4c4">
<text class="c" x="17" y="784.2">触</text>
<text class="c" x="33" y="784.2">摸</text>
<text class="c" x="49" y="784.2">屏</text>
<text class="c" x="65" y="784.2">输</text>
<text class="c" x="81" y="784.2">入</text>
<text class="c" x="105" y="784.2">轴</text>
<text class="c" x="137" y="784.2">工</text>
<text class="c" x="153" y="784.2">位</text>
<text class="c" x="185" y="784.2">孔</text>
<text class="c" x="201" y="784.2">距</text>
<text class="c" x="217" y="784.2">离</text>
</g>
<g fill="#800080">
<text class="c" x="31" y="110.2">位</text>
<text class="c" x="55" y="110.2">孔</text>
<text class="c" x="71" y="110.2">后</text>
<text class="c" x="23" y="125.2">到</text>
<text class="c" x="47" y="125.2">孔</text>
<text class="c" x="199" y="174.2">自</text>
<text class="c" x="215" y="174.2">动</text>
<text class="c" x="203" y="189.2">手</text>
<text class="c" x="219" y="189.2">动</text>
<text class="c" x="283" y="174.2">伺</text>
<text class="c" x="299" y="174.2">服</text>
<text class="c" x="315" y="174.2">报</text>
<text class="c" x="287" y="189.2">警</text>
<text class="c" x="831" y="238.2">位</text>
<text class="c" x="855" y="238.2">孔</text>
<text class="c" x="871" y="238.2">后</text>
<text class="c" x="823" y="253.2">到</text>
<text class="c" x="847" y="253.2">孔</text>
<text class="c" x="119" y="302.2">自</text>
<text class="c" x="135" y="302.2">动</text>
<text class="c" x="123" y="317.2">手</text>
<text class="c" x="139" y="317.2">动</text>
<text class="c" x="119" y="622.2">自</text>
<text class="c" x="135" y="622.2">动</text>
<text class="c" x="123" y="637.2">手</text>
<text class="c" x="139" y="637.2">动</text>
<text class="c" x="203" y="622.2">伺</text>
<text class="c" x="219" y="622.2">服</text>
<text class="c" x="235" y="622.2">报</text>
<text class="c" x="207" y="637.2">警</text>
<text class="c" x="827" y="622.2">到</text>
<text class="c" x="851" y="622.2">位</text>
<text class="c" x="875" y="622.2">孔</text>
<text class="c" x="827" y="637.2">后</text>
<text class="c" x="843" y="637.2">启</text>
<text class="c" x="867" y="637.2">轴</text>
<text class="c" x="39" y="686.2">自</text>
<text class="c" x="55" y="686.2">动</text>
<text class="c" x="43" y="701.2">手</text>
<text class="c" x="59" y="701.2">动</text>
<text class="c" x="43" y="750.2">伺</text>
<text class="c" x="59" y="750.2">服</text>
<text class="c" x="75" y="750.2">报</text>
<text class="c" x="47" y="765.2">警</text>
<text class="c" x="827" y="750.2">到</text>
<text class="c" x="851" y="750.2">位</text>
<text class="c" x="875" y="750.2">孔</text>
<text class="c" x="827" y="765.2">后</text>
<text class="c" x="843" y="765.2">启</text>
<text class="c" x="867" y="765.2">轴</text>
</g>
</g>
</svg>
<span class="m" style="left:9.41px;top:4.00px;font-size:13px;letter-spacing:0.90px;color:#800080;transform:scaleX(0.92);"><b style="width:8.70px;font-size:11.5px;letter-spacing:-0.23px;text-indent:-0.12px;transform:scale(1.304,1.0);transform-origin:0 3.06px">X</b><i style="width:34.78px">轴到</i>1<i style="width:34.78px">工位</i>3#<i style="width:17.39px">孔</i></span>
<span class="m" style="left:9.41px;top:773.00px;font-size:13px;letter-spacing:0.90px;color:#c4f4c4;transform:scaleX(0.92);"><i style="width:86.96px">触摸屏输入</i><b style="width:8.70px;font-size:11.5px;letter-spacing:-0.23px;text-indent:-0.12px;transform:scale(1.304,1.0);transform-origin:0 3.06px">Y</b><i style="width:17.39px">轴</i>1#<i style="width:34.78px">工位</i>3#<i style="width:52.17px">孔距离</i></span>
<span class="m" style="left:28.62px;top:69.00px;font-size:16.6px;letter-spacing:-0.18px;color:#0000ff;transform:scaleX(0.93);-webkit-text-stroke:0.15px #fff;"><b style="width:9.78px;font-size:15.2px;letter-spacing:-1.00px;text-indent:-0.50px;transform:scale(1.204,1.0);transform-origin:0 4.05px">M</b>128</span>
<span class="m" style="left:15.41px;top:98.00px;font-size:13px;letter-spacing:0.90px;color:#800080;transform:scaleX(0.92);">1<i style="width:17.39px">位</i>2<i style="width:34.78px">孔后</i></span>
<span class="m" style="left:15.41px;top:113.00px;font-size:13px;letter-spacing:0.90px;color:#800080;transform:scaleX(0.92);"><i style="width:17.39px">到</i>3<i style="width:17.39px">孔</i>(<b style="width:8.70px;font-size:11.5px;letter-spacing:-0.23px;text-indent:-0.12px;transform:scale(1.304,1.0);transform-origin:0 3.06px">X</b>)</span>
<span class="m" style="left:108.62px;top:133.00px;font-size:16.6px;letter-spacing:-0.18px;color:#0000ff;transform:scaleX(0.93);-webkit-text-stroke:0.15px #fff;"><b style="width:9.78px;font-size:15.2px;letter-spacing:-1.00px;text-indent:-0.50px;transform:scale(1.204,1.0);transform-origin:0 4.05px">T</b>103</span>
<span class="m" style="left:188.62px;top:133.00px;font-size:16.6px;letter-spacing:-0.18px;color:#0000ff;transform:scaleX(0.93);-webkit-text-stroke:0.15px #fff;"><b style="width:9.78px;font-size:15.2px;letter-spacing:-1.00px;text-indent:-0.50px;transform:scale(1.204,1.0);transform-origin:0 4.05px">M</b>801</span>
<span class="m" style="left:175.41px;top:162.00px;font-size:13px;letter-spacing:0.90px;color:#800080;transform:scaleX(0.92);"><b style="width:17.39px;font-size:11.5px;letter-spacing:-0.23px;text-indent:-0.12px;transform:scale(1.304,1.0);transform-origin:0 3.06px">ON</b><i style="width:34.78px">自动</i><b style="width:17.39px;font-size:11.5px;letter-spacing:-0.23px;text-indent:-0.12px;transform:scale(1.304,1.0);transform-origin:0 3.06px">OF</b></span>
<span class="m" style="left:187.41px;top:177.00px;font-size:13px;letter-spacing:0.90px;color:#800080;transform:scaleX(0.92);"><b style="width:8.70px;font-size:11.5px;letter-spacing:-0.23px;text-indent:-0.12px;transform:scale(1.304,1.0);transform-origin:0 3.06px">F</b><i style="width:34.78px">手动</i></span>
<span class="m" style="left:273.17px;top:133.00px;font-size:16.6px;letter-spacing:-0.18px;color:#0000ff;transform:scaleX(0.93);-webkit-text-stroke:0.15px #fff;"><b style="width:9.78px;font-size:15.2px;letter-spacing:-1.00px;text-indent:-0.50px;transform:scale(1.204,1.0);transform-origin:0 4.05px">M</b>90</span>
<span class="m" style="left:251.41px;top:162.00px;font-size:13px;letter-spacing:0.90px;color:#800080;transform:scaleX(0.92);"><b style="width:26.09px;font-size:11.5px;letter-spacing:-0.23px;text-indent:-0.12px;transform:scale(1.304,1.0);transform-origin:0 3.06px">XYZ</b><i style="width:52.17px">伺服报</i></span>
<span class="m" style="left:279.41px;top:177.00px;font-size:13px;letter-spacing:0.90px;color:#800080;transform:scaleX(0.92);"><i style="width:17.39px">警</i></span>
<span class="m" style="left:828.62px;top:133.00px;font-size:16.6px;letter-spacing:-0.18px;color:#0000ff;transform:scaleX(0.93);-webkit-text-stroke:0.15px #fff;"><b style="width:9.78px;font-size:15.2px;letter-spacing:-1.00px;text-indent:-0.50px;transform:scale(1.204,1.0);transform-origin:0 4.05px">M</b>129</span>
<span class="m" style="left:828.62px;top:197.00px;font-size:16.6px;letter-spacing:-0.18px;color:#0000ff;transform:scaleX(0.93);-webkit-text-stroke:0.15px #fff;"><b style="width:9.78px;font-size:15.2px;letter-spacing:-1.00px;text-indent:-0.50px;transform:scale(1.204,1.0);transform-origin:0 4.05px">M</b>128</span>
<span class="m" style="left:815.41px;top:226.00px;font-size:13px;letter-spacing:0.90px;color:#800080;transform:scaleX(0.92);">1<i style="width:17.39px">位</i>2<i style="width:34.78px">孔后</i></span>
<span class="m" style="left:815.41px;top:241.00px;font-size:13px;letter-spacing:0.90px;color:#800080;transform:scaleX(0.92);"><i style="width:17.39px">到</i>3<i style="width:17.39px">孔</i>(<b style="width:8.70px;font-size:11.5px;letter-spacing:-0.23px;text-indent:-0.12px;transform:scale(1.304,1.0);transform-origin:0 3.06px">X</b>)</span>
<span class="m" style="left:28.62px;top:261.00px;font-size:16.6px;letter-spacing:-0.18px;color:#0000ff;transform:scaleX(0.93);-webkit-text-stroke:0.15px #fff;"><b style="width:9.78px;font-size:15.2px;letter-spacing:-1.00px;text-indent:-0.50px;transform:scale(1.204,1.0);transform-origin:0 4.05px">M</b>129</span>
<span class="m" style="left:108.62px;top:261.00px;font-size:16.6px;letter-spacing:-0.18px;color:#0000ff;transform:scaleX(0.93);-webkit-text-stroke:0.15px #fff;"><b style="width:9.78px;font-size:15.2px;letter-spacing:-1.00px;text-indent:-0.50px;transform:scale(1.204,1.0);transform-origin:0 4.05px">M</b>801</span>
<span class="m" style="left:95.41px;top:290.00px;font-size:13px;letter-spacing:0.90px;color:#800080;transform:scaleX(0.92);"><b style="width:17.39px;font-size:11.5px;letter-spacing:-0.23px;text-indent:-0.12px;transform:scale(1.304,1.0);transform-origin:0 3.06px">ON</b><i style="width:34.78px">自动</i><b style="width:17.39px;font-size:11.5px;letter-spacing:-0.23px;text-indent:-0.12px;transform:scale(1.304,1.0);transform-origin:0 3.06px">OF</b></span>
<span class="m" style="left:107.41px;top:305.00px;font-size:13px;letter-spacing:0.90px;color:#800080;transform:scaleX(0.92);"><b style="width:8.70px;font-size:11.5px;letter-spacing:-0.23px;text-indent:-0.12px;transform:scale(1.304,1.0);transform-origin:0 3.06px">F</b><i style="width:34.78px">手动</i></span>
<span class="m" style="left:828.62px;top:261.00px;font-size:16.6px;letter-spacing:-0.18px;color:#0000ff;transform:scaleX(0.93);-webkit-text-stroke:0.15px #fff;"><b style="width:9.78px;font-size:15.2px;letter-spacing:-1.00px;text-indent:-0.50px;transform:scale(1.204,1.0);transform-origin:0 4.05px">M</b>130</span>
<span class="m" style="left:28.62px;top:453.00px;font-size:16.6px;letter-spacing:-0.18px;color:#0000ff;transform:scaleX(0.93);-webkit-text-stroke:0.15px #fff;"><b style="width:9.78px;font-size:15.2px;letter-spacing:-1.00px;text-indent:-0.50px;transform:scale(1.204,1.0);transform-origin:0 4.05px">M</b>129</span>
<span class="m" style="left:104.07px;top:453.00px;font-size:16.6px;letter-spacing:-0.18px;color:#0000ff;transform:scaleX(0.93);-webkit-text-stroke:0.15px #fff;"><b style="width:9.78px;font-size:15.2px;letter-spacing:-1.00px;text-indent:-0.50px;transform:scale(1.204,1.0);transform-origin:0 4.05px">M</b>1996</span>
<span class="m" style="left:828.62px;top:453.00px;font-size:16.6px;letter-spacing:-0.18px;color:#0000ff;transform:scaleX(0.93);-webkit-text-stroke:0.15px #fff;"><b style="width:9.78px;font-size:15.2px;letter-spacing:-1.00px;text-indent:-0.50px;transform:scale(1.204,1.0);transform-origin:0 4.05px">M</b>131</span>
<span class="m" style="left:28.62px;top:517.00px;font-size:16.6px;letter-spacing:-0.18px;color:#0000ff;transform:scaleX(0.93);-webkit-text-stroke:0.15px #fff;"><b style="width:9.78px;font-size:15.2px;letter-spacing:-1.00px;text-indent:-0.50px;transform:scale(1.204,1.0);transform-origin:0 4.05px">M</b>131</span>
<span class="m" style="left:828.62px;top:517.00px;font-size:16.6px;letter-spacing:-0.18px;color:#0000ff;transform:scaleX(0.93);-webkit-text-stroke:0.15px #fff;"><b style="width:9.78px;font-size:15.2px;letter-spacing:-1.00px;text-indent:-0.50px;transform:scale(1.204,1.0);transform-origin:0 4.05px">M</b>129</span>
<span class="m" style="left:108.62px;top:581.00px;font-size:16.6px;letter-spacing:-0.18px;color:#0000ff;transform:scaleX(0.93);-webkit-text-stroke:0.15px #fff;"><b style="width:9.78px;font-size:15.2px;letter-spacing:-1.00px;text-indent:-0.50px;transform:scale(1.204,1.0);transform-origin:0 4.05px">M</b>801</span>
<span class="m" style="left:95.41px;top:610.00px;font-size:13px;letter-spacing:0.90px;color:#800080;transform:scaleX(0.92);"><b style="width:17.39px;font-size:11.5px;letter-spacing:-0.23px;text-indent:-0.12px;transform:scale(1.304,1.0);transform-origin:0 3.06px">ON</b><i style="width:34.78px">自动</i><b style="width:17.39px;font-size:11.5px;letter-spacing:-0.23px;text-indent:-0.12px;transform:scale(1.304,1.0);transform-origin:0 3.06px">OF</b></span>
<span class="m" style="left:107.41px;top:625.00px;font-size:13px;letter-spacing:0.90px;color:#800080;transform:scaleX(0.92);"><b style="width:8.70px;font-size:11.5px;letter-spacing:-0.23px;text-indent:-0.12px;transform:scale(1.304,1.0);transform-origin:0 3.06px">F</b><i style="width:34.78px">手动</i></span>
<span class="m" style="left:193.17px;top:581.00px;font-size:16.6px;letter-spacing:-0.18px;color:#0000ff;transform:scaleX(0.93);-webkit-text-stroke:0.15px #fff;"><b style="width:9.78px;font-size:15.2px;letter-spacing:-1.00px;text-indent:-0.50px;transform:scale(1.204,1.0);transform-origin:0 4.05px">M</b>90</span>
<span class="m" style="left:171.41px;top:610.00px;font-size:13px;letter-spacing:0.90px;color:#800080;transform:scaleX(0.92);"><b style="width:26.09px;font-size:11.5px;letter-spacing:-0.23px;text-indent:-0.12px;transform:scale(1.304,1.0);transform-origin:0 3.06px">XYZ</b><i style="width:52.17px">伺服报</i></span>
<span class="m" style="left:199.41px;top:625.00px;font-size:13px;letter-spacing:0.90px;color:#800080;transform:scaleX(0.92);"><i style="width:17.39px">警</i></span>
<span class="m" style="left:828.62px;top:581.00px;font-size:16.6px;letter-spacing:-0.18px;color:#0000ff;transform:scaleX(0.93);-webkit-text-stroke:0.15px #fff;"><b style="width:9.78px;font-size:15.2px;letter-spacing:-1.00px;text-indent:-0.50px;transform:scale(1.204,1.0);transform-origin:0 4.05px">M</b>530</span>
<span class="m" style="left:811.41px;top:610.00px;font-size:13px;letter-spacing:0.90px;color:#800080;transform:scaleX(0.92);"><b style="width:8.70px;font-size:11.5px;letter-spacing:-0.23px;text-indent:-0.12px;transform:scale(1.304,1.0);transform-origin:0 3.06px">X</b><i style="width:17.39px">到</i>1<i style="width:17.39px">位</i>3<i style="width:17.39px">孔</i></span>
<span class="m" style="left:819.41px;top:625.00px;font-size:13px;letter-spacing:0.90px;color:#800080;transform:scaleX(0.92);"><i style="width:34.78px">后启</i><b style="width:8.70px;font-size:11.5px;letter-spacing:-0.23px;text-indent:-0.12px;transform:scale(1.304,1.0);transform-origin:0 3.06px">Z</b><i style="width:17.39px">轴</i></span>
<span class="m" style="left:28.62px;top:645.00px;font-size:16.6px;letter-spacing:-0.18px;color:#0000ff;transform:scaleX(0.93);-webkit-text-stroke:0.15px #fff;"><b style="width:9.78px;font-size:15.2px;letter-spacing:-1.00px;text-indent:-0.50px;transform:scale(1.204,1.0);transform-origin:0 4.05px">M</b>801</span>
<span class="m" style="left:15.41px;top:674.00px;font-size:13px;letter-spacing:0.90px;color:#800080;transform:scaleX(0.92);"><b style="width:17.39px;font-size:11.5px;letter-spacing:-0.23px;text-indent:-0.12px;transform:scale(1.304,1.0);transform-origin:0 3.06px">ON</b><i style="width:34.78px">自动</i><b style="width:17.39px;font-size:11.5px;letter-spacing:-0.23px;text-indent:-0.12px;transform:scale(1.304,1.0);transform-origin:0 3.06px">OF</b></span>
<span class="m" style="left:27.41px;top:689.00px;font-size:13px;letter-spacing:0.90px;color:#800080;transform:scaleX(0.92);"><b style="width:8.70px;font-size:11.5px;letter-spacing:-0.23px;text-indent:-0.12px;transform:scale(1.304,1.0);transform-origin:0 3.06px">F</b><i style="width:34.78px">手动</i></span>
<span class="m" style="left:828.62px;top:645.00px;font-size:16.6px;letter-spacing:-0.18px;color:#0000ff;transform:scaleX(0.93);-webkit-text-stroke:0.15px #fff;"><b style="width:9.78px;font-size:15.2px;letter-spacing:-1.00px;text-indent:-0.50px;transform:scale(1.204,1.0);transform-origin:0 4.05px">M</b>129</span>
<span class="m" style="left:33.17px;top:709.00px;font-size:16.6px;letter-spacing:-0.18px;color:#0000ff;transform:scaleX(0.93);-webkit-text-stroke:0.15px #fff;"><b style="width:9.78px;font-size:15.2px;letter-spacing:-1.00px;text-indent:-0.50px;transform:scale(1.204,1.0);transform-origin:0 4.05px">M</b>90</span>
<span class="m" style="left:11.41px;top:738.00px;font-size:13px;letter-spacing:0.90px;color:#800080;transform:scaleX(0.92);"><b style="width:26.09px;font-size:11.5px;letter-spacing:-0.23px;text-indent:-0.12px;transform:scale(1.304,1.0);transform-origin:0 3.06px">XYZ</b><i style="width:52.17px">伺服报</i></span>
<span class="m" style="left:39.41px;top:753.00px;font-size:13px;letter-spacing:0.90px;color:#800080;transform:scaleX(0.92);"><i style="width:17.39px">警</i></span>
<span class="m" style="left:828.62px;top:709.00px;font-size:16.6px;letter-spacing:-0.18px;color:#0000ff;transform:scaleX(0.93);-webkit-text-stroke:0.15px #fff;"><b style="width:9.78px;font-size:15.2px;letter-spacing:-1.00px;text-indent:-0.50px;transform:scale(1.204,1.0);transform-origin:0 4.05px">M</b>530</span>
<span class="m" style="left:811.41px;top:738.00px;font-size:13px;letter-spacing:0.90px;color:#800080;transform:scaleX(0.92);"><b style="width:8.70px;font-size:11.5px;letter-spacing:-0.23px;text-indent:-0.12px;transform:scale(1.304,1.0);transform-origin:0 3.06px">X</b><i style="width:17.39px">到</i>1<i style="width:17.39px">位</i>3<i style="width:17.39px">孔</i></span>
<span class="m" style="left:819.41px;top:753.00px;font-size:13px;letter-spacing:0.90px;color:#800080;transform:scaleX(0.92);"><i style="width:34.78px">后启</i><b style="width:8.70px;font-size:11.5px;letter-spacing:-0.23px;text-indent:-0.12px;transform:scale(1.304,1.0);transform-origin:0 3.06px">Z</b><i style="width:17.39px">轴</i></span>
<span class="m" style="left:623.83px;top:69.00px;font-size:13.9px;letter-spacing:-0.34px;color:#0000ff;-webkit-text-stroke:0.12px #fafaf0;">.1<b style="width:8.00px;font-size:12.0px;letter-spacing:0.07px;text-indent:0.04px;transform:scale(1.100,1.0);transform-origin:0 3.20px">S</b></span>
<span class="m" style="left:619.83px;top:95.00px;font-size:13.9px;letter-spacing:-0.34px;color:#0000ff;-webkit-text-stroke:0.12px #fafaf0;"><b style="width:8.00px;font-size:12.0px;letter-spacing:0.07px;text-indent:0.04px;transform:scale(1.100,1.0);transform-origin:0 3.20px">T</b>103</span>
<span class="m" style="left:712.83px;top:95.00px;font-size:13.9px;letter-spacing:-0.34px;color:#0000ff;-webkit-text-stroke:0.12px #fafaf0;">2</span>
<span class="m" style="left:650.83px;top:261.00px;font-size:13.9px;letter-spacing:-0.34px;color:#0000ff;-webkit-text-stroke:0.12px #fafaf0;">140.<b style="width:40.00px;font-size:12.0px;letter-spacing:0.07px;text-indent:0.04px;transform:scale(1.100,1.0);transform-origin:0 3.20px">HSPSO</b></span>
<span class="m" style="left:623.83px;top:273.00px;font-size:13.9px;letter-spacing:-0.34px;color:#0000ff;-webkit-text-stroke:0.12px #fafaf0;"><b style="width:8.00px;font-size:12.0px;letter-spacing:0.07px;text-indent:0.04px;transform:scale(1.100,1.0);transform-origin:0 3.20px">P</b>s:</span>
<span class="m" style="left:712.83px;top:273.00px;font-size:13.9px;letter-spacing:-0.34px;color:#0000ff;-webkit-text-stroke:0.12px #fafaf0;">0</span>
<span class="m" style="left:623.83px;top:305.00px;font-size:13.9px;letter-spacing:-0.34px;color:#0000ff;-webkit-text-stroke:0.12px #fafaf0;"><b style="width:16.00px;font-size:12.0px;letter-spacing:0.07px;text-indent:0.04px;transform:scale(1.100,1.0);transform-origin:0 3.20px">SR</b>:</span>
<span class="m" style="left:696.83px;top:305.00px;font-size:13.9px;letter-spacing:-0.34px;color:#0000ff;-webkit-text-stroke:0.12px #fafaf0;"><b style="width:8.00px;font-size:12.0px;letter-spacing:0.07px;text-indent:0.04px;transform:scale(1.100,1.0);transform-origin:0 3.20px">R</b>5100</span>
<span class="m" style="left:623.83px;top:337.00px;font-size:13.9px;letter-spacing:-0.34px;color:#0000ff;-webkit-text-stroke:0.12px #fafaf0;"><b style="width:16.00px;font-size:12.0px;letter-spacing:0.07px;text-indent:0.04px;transform:scale(1.100,1.0);transform-origin:0 3.20px">WR</b>:</span>
<span class="m" style="left:696.83px;top:337.00px;font-size:13.9px;letter-spacing:-0.34px;color:#0000ff;-webkit-text-stroke:0.12px #fafaf0;"><b style="width:8.00px;font-size:12.0px;letter-spacing:0.07px;text-indent:0.04px;transform:scale(1.100,1.0);transform-origin:0 3.20px">R</b>2070</span>
<span class="s" style="left:558.00px;top:82.75px;font-size:14px;color:#ff0000;transform:scaleX(0.960);width:60px;text-align:center;">EN</span>
<span class="s" style="left:755.70px;top:82.75px;font-size:14px;color:#800080;transform:scaleX(0.940);width:60px;text-align:center;">TUP</span>
<span class="s" style="left:558.00px;top:274.75px;font-size:14px;color:#ff0000;transform:scaleX(0.960);width:60px;text-align:center;">EN</span>
<span class="s" style="left:557.40px;top:338.75px;font-size:14px;color:#ff0000;transform:scaleX(0.980);width:60px;text-align:center;">PAU</span>
<span class="s" style="left:557.20px;top:402.75px;font-size:14px;color:#ff0000;transform:scaleX(0.950);width:60px;text-align:center;">ABT</span>
<span class="s" style="left:755.40px;top:274.75px;font-size:14px;color:#800080;transform:scaleX(0.940);width:60px;text-align:center;">ACT</span>
<span class="s" style="left:755.20px;top:338.75px;font-size:14px;color:#800080;transform:scaleX(0.900);width:60px;text-align:center;">ERR</span>
<span class="s" style="left:755.80px;top:402.75px;font-size:14px;color:#800080;transform:scaleX(0.920);width:60px;text-align:center;">DN</span>
</body></html>
